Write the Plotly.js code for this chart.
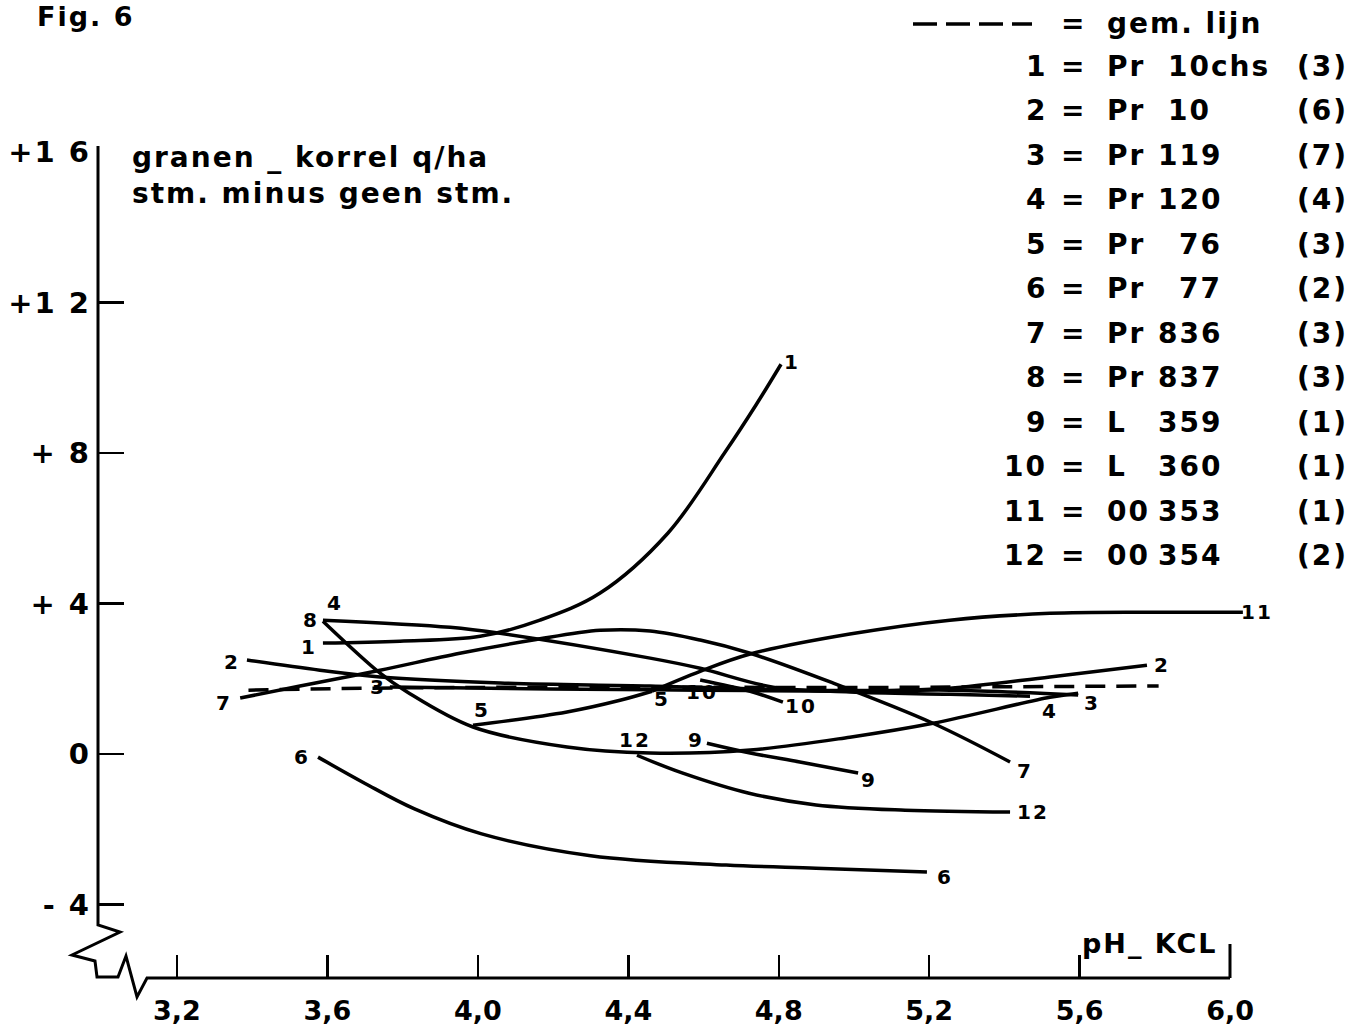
<!DOCTYPE html>
<html><head><meta charset="utf-8">
<script src="https://cdn.plot.ly/plotly-3.0.1.min.js"></script>
<style>
html,body{margin:0;padding:0;background:#fff;}
#chart{width:1364px;height:1036px;}
.annotation-text{letter-spacing:2px;}
.ytick text{letter-spacing:2px;}
</style>
</head><body><div id="chart"></div>
<script>
// ---- axis ticks ----
const xTickVals = [3.2, 3.6, 4.0, 4.4, 4.8, 5.2, 5.6, 6.0];
const xTickText = ['3,2', '3,6', '4,0', '4,4', '4,8', '5,2', '5,6', '6,0'];
const yTickVals = [16, 12, 8, 4, 0, -4];
const yTickText = ['+1 6', '+1 2', '+ 8', '+ 4', '0', '- 4'];

// ---- curves (pH-KCl, difference q/ha) ----
const curve1X = [3.588, 3.793, 4.006, 4.165, 4.325, 4.505, 4.657, 4.739, 4.806];
const curve1Y = [2.95, 3.00, 3.13, 3.56, 4.28, 5.87, 8.02, 9.27, 10.36];
const curve2X = [3.386, 3.580, 3.740, 4.059, 4.458, 4.857, 5.122, 5.255, 5.521, 5.779];
const curve2Y = [2.50, 2.23, 2.05, 1.89, 1.81, 1.70, 1.70, 1.75, 2.05, 2.36];
const curve3X = [3.766, 4.192, 4.591, 4.989, 5.255, 5.596];
const curve3Y = [1.78, 1.73, 1.70, 1.67, 1.70, 1.57];
const curve4X = [3.588, 3.740, 3.812, 3.987, 4.237, 4.458, 4.724, 4.989, 5.210, 5.521, 5.596];
const curve4Y = [3.53, 2.15, 1.65, 0.72, 0.19, 0.03, 0.11, 0.45, 0.82, 1.51, 1.62];
const curve5X = [3.987, 4.237, 4.378, 4.463];
const curve5Y = [0.77, 1.12, 1.43, 1.67];
const curve6X = [3.575, 3.700, 3.830, 4.010, 4.300, 4.660, 4.899, 5.194];
const curve6Y = [-0.08, -0.78, -1.45, -2.12, -2.70, -2.95, -3.03, -3.13];
const curve7X = [3.368, 3.527, 3.740, 3.952, 4.147, 4.325, 4.458, 4.591, 4.724, 4.944, 5.210, 5.415];
const curve7Y = [1.49, 1.81, 2.23, 2.68, 3.03, 3.29, 3.27, 3.03, 2.68, 1.89, 0.82, -0.21];
const curve8X = [3.588, 3.926, 4.059, 4.458, 4.591, 4.785, 4.989, 5.255, 5.468];
const curve8Y = [3.56, 3.37, 3.21, 2.55, 2.28, 1.78, 1.65, 1.59, 1.54];
const curve9X = [4.609, 4.724, 4.856, 5.011];
const curve9Y = [0.29, 0.03, -0.21, -0.50];
const curve10X = [4.591, 4.724, 4.811];
const curve10Y = [1.97, 1.67, 1.38];
const curve11X = [4.463, 4.591, 4.724, 4.989, 5.255, 5.521, 5.787, 6.034];
const curve11Y = [1.67, 2.20, 2.66, 3.19, 3.56, 3.74, 3.77, 3.77];
const curve12X = [4.423, 4.543, 4.721, 4.899, 5.136, 5.415];
const curve12Y = [-0.03, -0.50, -1.04, -1.35, -1.49, -1.54];
const meanX = [3.39, 3.80, 4.40, 5.00, 5.40, 5.81];
const meanY = [1.70, 1.76, 1.78, 1.77, 1.79, 1.81];

// ---- legend text ----
const legendNum = ['1', '2', '3', '4', '5', '6', '7', '8', '9', '10', '11', '12'];
const legendPrefix = ['Pr', 'Pr', 'Pr', 'Pr', 'Pr', 'Pr', 'Pr', 'Pr', 'L', 'L', '00', '00'];
const legendCode = ['10chs', '10', '119', '120', '76', '77', '836', '837', '359', '360', '353', '354'];
const legendCount = ['(3)', '(6)', '(7)', '(4)', '(3)', '(2)', '(3)', '(3)', '(1)', '(1)', '(1)', '(2)'];
const meanLabel = 'gem. lijn';
const figLabel = 'Fig. 6';
const yTitle1 = 'granen _ korrel q/ha';
const yTitle2 = 'stm. minus geen stm.';
const xTitle = 'pH_ KCL';

// ---- layout geometry (pixels) ----
const W = 1364, H = 1036;
const L = 98, R = 1300, T = 152, B = 978;
const XSCALE = 376.1;             // px per pH unit
const FONT = 'DejaVu Sans';
const px = v => (v - L) / (R - L);
const py = v => (B - v) / (B - T);

const curves = [
  {id: '1', x: curve1X, y: curve1Y, s: [-14, 4], e: [11, -2]},
  {id: '2', x: curve2X, y: curve2Y, s: [-15, 2], e: [15, 0]},
  {id: '3', x: curve3X, y: curve3Y, s: [-12, 0], e: [14, 8]},
  {id: '4', x: curve4X, y: curve4Y, s: [12, -18], e: [-28, 18]},
  {id: '5', x: curve5X, y: curve5Y, s: [9, -15], e: [10, 8]},
  {id: '6', x: curve6X, y: curve6Y, s: [-16, 0], e: [18, 5]},
  {id: '7', x: curve7X, y: curve7Y, s: [-16, 5], e: [15, 9]},
  {id: '8', x: curve8X, y: curve8Y, s: [-12, 0], e: null},
  {id: '9', x: curve9X, y: curve9Y, s: [-11, -3], e: [11, 7]},
  {id: '10', x: curve10X, y: curve10Y, s: [2, 12], e: [18, 4]},
  {id: '11', x: curve11X, y: curve11Y, s: null, e: [14, 0]},
  {id: '12', x: curve12X, y: curve12Y, s: [-2, -15], e: [23, 0]}
];

const traces = curves.map(c => ({
  type: 'scatter', mode: 'lines', name: c.id, x: c.x, y: c.y,
  line: {color: '#000', width: 3.5, shape: 'spline', smoothing: 1},
  cliponaxis: false, hoverinfo: 'skip'
}));
traces.push({
  type: 'scatter', mode: 'lines', name: 'gem. lijn', x: meanX, y: meanY,
  line: {color: '#000', width: 3.5, dash: '20px,11px', shape: 'spline'},
  cliponaxis: false, hoverinfo: 'skip'
});

const annotations = [];
const labFont = {family: FONT, size: 20, color: '#000', weight: 'bold'};
curves.forEach(c => {
  const n = c.x.length;
  if (c.s) annotations.push({x: c.x[0], y: c.y[0], xref: 'x', yref: 'y', text: c.id, showarrow: false,
    xshift: c.s[0], yshift: -c.s[1], font: labFont});
  if (c.e) annotations.push({x: c.x[n - 1], y: c.y[n - 1], xref: 'x', yref: 'y', text: c.id, showarrow: false,
    xshift: c.e[0], yshift: -c.e[1], font: labFont});
});

const bigFont = {family: FONT, size: 28, color: '#000', weight: 'bold'};
const pa = (x, y, text, anchor, font) => annotations.push({
  x: px(x), y: py(y), xref: 'paper', yref: 'paper', text: text, showarrow: false,
  xanchor: anchor, yanchor: 'middle', font: font || bigFont
});

pa(35, 17, figLabel, 'left', {family: FONT, size: 27, color: '#000', weight: 'bold'});
pa(130, 158, yTitle1, 'left', bigFont);
pa(130, 194, yTitle2, 'left', bigFont);
pa(1220, 943, xTitle, 'right', {family: FONT, size: 27, color: '#000', weight: 'bold'});

// legend
pa(1073, 24, '=', 'center');
pa(1105, 24, meanLabel, 'left');
legendNum.forEach((n, i) => {
  const yy = 66 + i * 44.5;
  pa(1049, yy, n, 'right');
  pa(1073, yy, '=', 'center');
  pa(1105, yy, legendPrefix[i], 'left');
  if (legendCode[i].length === 5 || legendCode[i] === '10') pa(1166, yy, legendCode[i], 'left');
  else pa(1224, yy, legendCode[i], 'right');
  pa(1322, yy, legendCount[i], 'center');
});

// axes drawn as broken lines
const axisPts = [[98, 146], [98, 925], [120, 932], [72, 955], [95, 961], [97, 977], [118, 977],
  [126, 956], [137, 997], [147, 978], [1230, 978]];
let path = 'M ' + axisPts.map(p => px(p[0]).toFixed(5) + ',' + py(p[1]).toFixed(5)).join(' L ');
path += ' M ' + px(1230).toFixed(5) + ',' + py(978).toFixed(5) + ' L ' + px(1230).toFixed(5) + ',' + py(944).toFixed(5);

const shapes = [
  {type: 'path', xref: 'paper', yref: 'paper', path: path, line: {color: '#000', width: 3}},
  {type: 'line', xref: 'paper', yref: 'paper', x0: px(913), x1: px(1032), y0: py(24), y1: py(24),
    line: {color: '#000', width: 3.5, dash: '24px,9px'}}
];

const layout = {
  width: W, height: H,
  margin: {l: L, r: W - R, t: T, b: H - B, pad: 0},
  paper_bgcolor: '#fff', plot_bgcolor: 'rgba(0,0,0,0)',
  showlegend: false, hovermode: false,
  xaxis: {
    range: [3.2 - (177 - L) / XSCALE, 3.2 + (R - 177) / XSCALE], showgrid: false, zeroline: false, showline: false,
    tickmode: 'array', tickvals: xTickVals, ticktext: xTickText,
    ticks: 'inside', ticklen: 23, tickwidth: 2.5, tickcolor: '#000',
    ticklabelstandoff: 14,
    tickfont: {family: FONT, size: 27, color: '#000', weight: 'bold'}
  },
  yaxis: {
    range: [-(B - 754) / 37.65, 16], showgrid: false, zeroline: false, showline: false,
    tickmode: 'array', tickvals: yTickVals, ticktext: yTickText,
    ticks: 'inside', ticklen: 26, tickwidth: 2.5, tickcolor: '#000',
    ticklabelstandoff: 6,
    tickfont: {family: FONT, size: 29, color: '#000', weight: 'bold'}
  },
  shapes: shapes,
  annotations: annotations
};

Plotly.newPlot('chart', traces, layout, {staticPlot: true, displayModeBar: false});
</script>
</body></html>
